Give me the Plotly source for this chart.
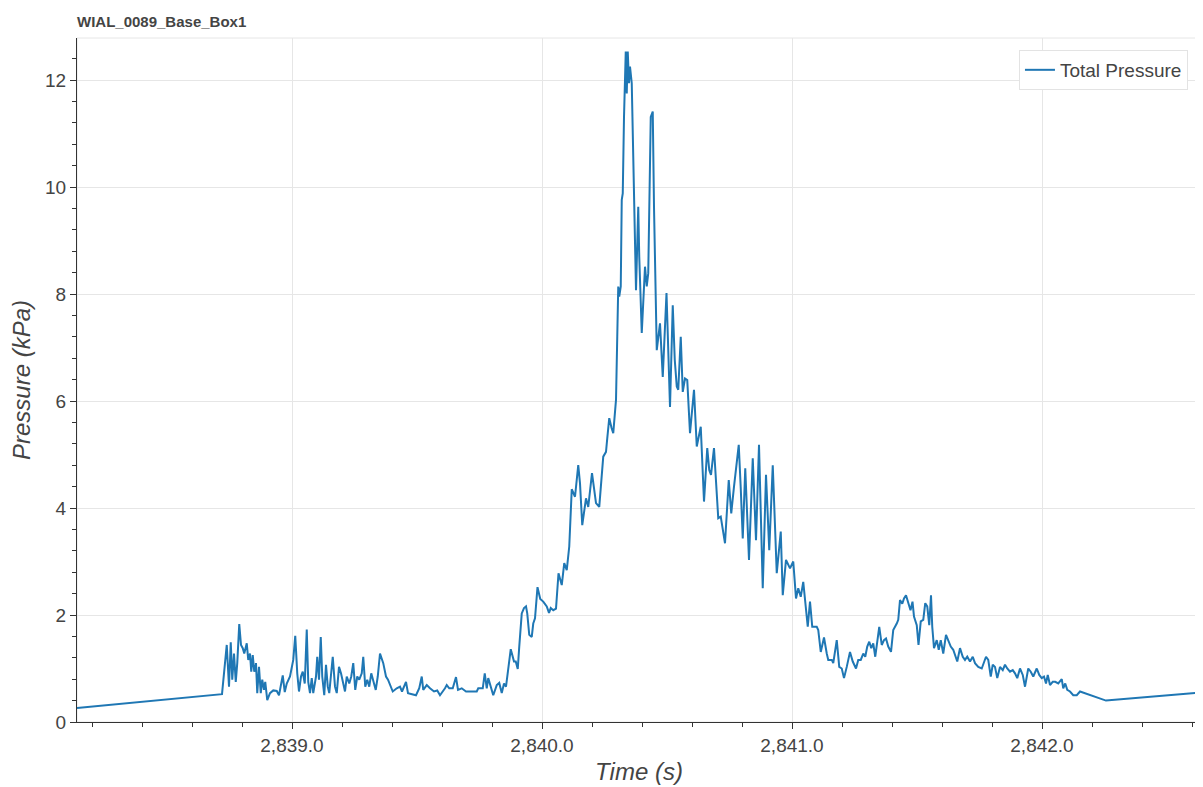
import plotly.graph_objects as go

title_text = "WIAL_0089_Base_Box1"
series_name = "Total Pressure"

time_s = [
    2838.140, 2838.720, 2838.739, 2838.748, 2838.755, 2838.761, 2838.768, 2838.775, 2838.781, 2838.789,
    2838.796, 2838.803, 2838.809, 2838.819, 2838.825, 2838.832, 2838.837, 2838.843, 2838.849, 2838.856,
    2838.861, 2838.868, 2838.875, 2838.881, 2838.888, 2838.893, 2838.901, 2838.912, 2838.925, 2838.939,
    2838.948, 2838.956, 2838.963, 2838.971, 2838.979, 2838.992, 2839.005, 2839.013, 2839.021, 2839.028,
    2839.036, 2839.043, 2839.051, 2839.059, 2839.065, 2839.072, 2839.079, 2839.085, 2839.096, 2839.101,
    2839.108, 2839.115, 2839.121, 2839.129, 2839.136, 2839.143, 2839.149, 2839.163, 2839.172, 2839.179,
    2839.188, 2839.196, 2839.212, 2839.219, 2839.229, 2839.237, 2839.245, 2839.253, 2839.261, 2839.269,
    2839.279, 2839.285, 2839.293, 2839.301, 2839.309, 2839.317, 2839.325, 2839.335, 2839.343, 2839.352,
    2839.365, 2839.376, 2839.384, 2839.403, 2839.419, 2839.432, 2839.440, 2839.448, 2839.456, 2839.464,
    2839.479, 2839.496, 2839.509, 2839.519, 2839.525, 2839.539, 2839.552, 2839.568, 2839.581, 2839.592,
    2839.612, 2839.619, 2839.629, 2839.643, 2839.656, 2839.664, 2839.679, 2839.696, 2839.719, 2839.739,
    2839.745, 2839.763, 2839.771, 2839.779, 2839.785, 2839.795, 2839.805, 2839.819, 2839.829, 2839.839,
    2839.848, 2839.856, 2839.865, 2839.875, 2839.883, 2839.888, 2839.895, 2839.903, 2839.909, 2839.919,
    2839.928, 2839.936, 2839.941, 2839.949, 2839.959, 2839.965, 2839.972, 2839.982, 2839.993, 2840.005,
    2840.019, 2840.028, 2840.035, 2840.045, 2840.056, 2840.066, 2840.079, 2840.089, 2840.099, 2840.109,
    2840.119, 2840.132, 2840.145, 2840.152, 2840.161, 2840.176, 2840.185, 2840.200, 2840.216, 2840.229,
    2840.245, 2840.256, 2840.261, 2840.269, 2840.278, 2840.285, 2840.296, 2840.305, 2840.309, 2840.315,
    2840.319, 2840.323, 2840.328, 2840.335, 2840.339, 2840.343, 2840.348, 2840.352, 2840.359, 2840.372,
    2840.376, 2840.385, 2840.389, 2840.399, 2840.412, 2840.419, 2840.425, 2840.435, 2840.443, 2840.448,
    2840.459, 2840.472, 2840.483, 2840.498, 2840.512, 2840.523, 2840.531, 2840.539, 2840.545, 2840.555,
    2840.563, 2840.572, 2840.581, 2840.592, 2840.608, 2840.619, 2840.625, 2840.635, 2840.648, 2840.661,
    2840.669, 2840.676, 2840.688, 2840.705, 2840.715, 2840.732, 2840.747, 2840.757, 2840.768, 2840.779,
    2840.787, 2840.795, 2840.803, 2840.813, 2840.828, 2840.843, 2840.856, 2840.868, 2840.883, 2840.896,
    2840.909, 2840.923, 2840.939, 2840.955, 2840.963, 2840.976, 2840.992, 2841.005, 2841.016, 2841.025,
    2841.035, 2841.045, 2841.053, 2841.063, 2841.072, 2841.081, 2841.099, 2841.105, 2841.115, 2841.128,
    2841.139, 2841.145, 2841.159, 2841.165, 2841.179, 2841.189, 2841.199, 2841.208, 2841.219, 2841.232,
    2841.243, 2841.256, 2841.265, 2841.275, 2841.285, 2841.293, 2841.301, 2841.309, 2841.317, 2841.325,
    2841.333, 2841.341, 2841.349, 2841.359, 2841.368, 2841.376, 2841.385, 2841.396, 2841.405, 2841.419,
    2841.425, 2841.432, 2841.441, 2841.448, 2841.456, 2841.465, 2841.474, 2841.482, 2841.488, 2841.499,
    2841.506, 2841.515, 2841.525, 2841.533, 2841.541, 2841.549, 2841.556, 2841.561, 2841.568, 2841.579,
    2841.587, 2841.595, 2841.605, 2841.616, 2841.625, 2841.635, 2841.645, 2841.661, 2841.672, 2841.683,
    2841.692, 2841.701, 2841.712, 2841.723, 2841.732, 2841.745, 2841.759, 2841.776, 2841.785, 2841.795,
    2841.803, 2841.812, 2841.821, 2841.832, 2841.843, 2841.852, 2841.861, 2841.872, 2841.883, 2841.892,
    2841.901, 2841.912, 2841.923, 2841.932, 2841.945, 2841.955, 2841.965, 2841.979, 2841.989, 2841.999,
    2842.008, 2842.016, 2842.023, 2842.032, 2842.043, 2842.053, 2842.065, 2842.079, 2842.085, 2842.093,
    2842.101, 2842.112, 2842.125, 2842.139, 2842.152, 2842.256, 2842.660,
]

pressure_kpa = [
    0.26, 0.52, 1.44, 0.66, 1.49, 0.79, 1.28, 0.75, 1.10, 1.83,
    1.44, 1.38, 1.28, 1.47, 1.16, 1.28, 0.94, 1.25, 0.94, 1.10,
    0.54, 1.03, 0.54, 0.79, 0.60, 0.75, 0.41, 0.54, 0.59, 0.58,
    0.50, 0.72, 0.87, 0.56, 0.72, 0.85, 1.16, 1.61, 0.91, 0.57,
    0.85, 0.94, 0.72, 1.73, 0.75, 0.54, 0.82, 0.54, 0.85, 1.22,
    0.79, 1.59, 0.85, 0.50, 1.07, 0.66, 0.54, 1.22, 0.66, 0.54,
    1.03, 0.91, 0.57, 0.85, 0.72, 0.85, 1.10, 0.60, 0.85, 0.79,
    0.91, 1.22, 0.66, 0.79, 0.66, 0.91, 0.75, 0.60, 0.85, 1.28,
    1.10, 0.85, 0.79, 0.57, 0.63, 0.66, 0.57, 0.66, 0.75, 0.54,
    0.52, 0.50, 0.63, 0.85, 0.60, 0.69, 0.63, 0.57, 0.59, 0.50,
    0.63, 0.69, 0.63, 0.63, 0.84, 0.60, 0.63, 0.57, 0.57, 0.57,
    0.63, 0.63, 0.91, 0.63, 0.82, 0.66, 0.50, 0.69, 0.73, 0.54,
    0.72, 0.66, 0.97, 1.36, 1.22, 1.13, 1.13, 0.99, 1.41, 2.03,
    2.13, 2.16, 2.03, 1.63, 1.59, 1.84, 1.94, 2.52, 2.30, 2.25,
    2.16, 2.04, 2.13, 2.09, 2.12, 2.78, 2.56, 2.97, 2.84, 3.28,
    4.35, 4.21, 4.80, 4.46, 3.68, 4.18, 4.02, 4.65, 4.09, 4.02,
    4.96, 5.05, 5.30, 5.68, 5.50, 5.40, 6.02, 8.14, 7.95, 8.14,
    9.76, 9.88, 11.31, 12.53, 11.75, 12.53, 11.94, 12.25, 11.94, 9.01,
    8.07, 9.63, 8.70, 7.27, 8.51, 8.14, 8.39, 11.31, 11.41, 9.63,
    6.95, 7.45, 6.45, 8.02, 5.89, 7.79, 6.77, 6.27, 6.21, 7.20,
    6.17, 6.42, 6.39, 5.40, 6.21, 5.15, 5.27, 5.52, 4.12, 5.12,
    4.71, 4.62, 5.12, 3.81, 3.84, 3.34, 4.52, 3.90, 4.40, 4.90,
    5.18, 4.37, 3.43, 4.74, 3.03, 4.93, 3.40, 5.18, 2.50, 4.62,
    3.21, 4.80, 2.78, 3.56, 2.37, 3.03, 2.87, 3.00, 2.31, 2.50,
    2.34, 2.62, 2.28, 1.78, 2.25, 1.78, 1.78, 1.72, 1.31, 1.58,
    1.28, 1.16, 1.16, 1.10, 1.53, 1.03, 1.00, 0.82, 1.03, 1.31,
    1.13, 1.00, 1.16, 1.16, 1.28, 1.22, 1.41, 1.50, 1.38, 1.47,
    1.22, 1.53, 1.78, 1.44, 1.53, 1.56, 1.41, 1.31, 1.72, 1.84,
    1.91, 2.28, 2.21, 2.31, 2.37, 2.23, 2.09, 2.25, 1.97, 1.81,
    1.44, 1.88, 1.91, 2.22, 2.16, 1.81, 2.37, 1.78, 1.38, 1.53,
    1.35, 1.53, 1.28, 1.63, 1.53, 1.41, 1.35, 1.13, 1.38, 1.22,
    1.16, 1.22, 1.13, 1.22, 1.10, 1.03, 1.00, 1.22, 1.16, 0.85,
    1.07, 1.03, 0.82, 1.03, 0.97, 1.07, 1.00, 0.94, 0.97, 0.91,
    0.82, 1.00, 0.88, 0.66, 1.00, 0.94, 0.85, 1.00, 0.88, 0.82,
    0.85, 0.72, 0.88, 0.69, 0.75, 0.75, 0.72, 0.80, 0.63, 0.72,
    0.60, 0.57, 0.50, 0.50, 0.57, 0.40, 0.56,
]

x_range = [2838.14, 2842.636]
y_range = [0, 12.785]
x_tick_vals = [2839.0, 2840.0, 2841.0, 2842.0]
y_tick_vals = [0, 2, 4, 6, 8, 10, 12]

FONT = "Liberation Sans, Arial, Helvetica, sans-serif"
TXT = "#444444"
GRID = "#e6e6e6"
AXIS = "#333333"

# page body has an 8px default margin, so the figure is sized to fit the window
W, H = 1195, 779

fig = go.Figure()
fig.add_trace(go.Scatter(
    x=time_s, y=pressure_kpa, mode="lines", name=series_name,
    line=dict(color="#1f77b4", width=2),
    showlegend=True,
))

fig.update_layout(
    width=W, height=H,
    margin=dict(l=69, r=2, t=30, b=65, autoexpand=False),
    paper_bgcolor="white", plot_bgcolor="white",
    font=dict(family=FONT, color=TXT),
    title=dict(text="<b>" + title_text + "</b>", x=69 / W, xanchor="left",
               y=1 - 14 / H, yanchor="middle",
               font=dict(size=15, family=FONT, color=TXT)),
    showlegend=True,
    legend=dict(x=0.9884, xanchor="right", y=0.9825, yanchor="top",
                bgcolor="white", bordercolor="#e3e3e3", borderwidth=1,
                font=dict(size=19, family=FONT, color=TXT),
                itemwidth=30, tracegroupgap=0),
)

fig.update_xaxes(
    range=x_range, tickvals=x_tick_vals, tickformat=",.1f",
    showgrid=True, gridcolor=GRID, gridwidth=1, zeroline=False,
    showline=True, linecolor=AXIS, linewidth=1,
    ticks="outside", ticklen=6, tickcolor=AXIS,
    tickfont=dict(size=19, family=FONT, color=TXT),
    minor=dict(tick0=2839, dtick=0.2, ticks="outside", ticklen=4, tickcolor=AXIS, showgrid=False),
    title=dict(text="<i>Time (s)</i>", font=dict(size=24, family=FONT, color=TXT), standoff=8),
    mirror=False,
)
fig.update_yaxes(
    range=y_range, tickvals=y_tick_vals,
    showgrid=True, gridcolor=GRID, gridwidth=1, zeroline=False,
    showline=True, linecolor=AXIS, linewidth=1,
    ticks="outside", ticklen=6, tickcolor=AXIS,
    tickfont=dict(size=19, family=FONT, color=TXT),
    minor=dict(tick0=0, dtick=0.4, ticks="outside", ticklen=4, tickcolor=AXIS, showgrid=False),
    title=dict(text="<i>Pressure (kPa)</i>", font=dict(size=24, family=FONT, color=TXT), standoff=10),
)

# light outline around the plot frame (top/right)
fig.add_shape(type="rect", xref="paper", yref="paper", x0=0, y0=0, x1=1, y1=1,
              line=dict(color=GRID, width=1), layer="below")

fig.write_html("out.html")
